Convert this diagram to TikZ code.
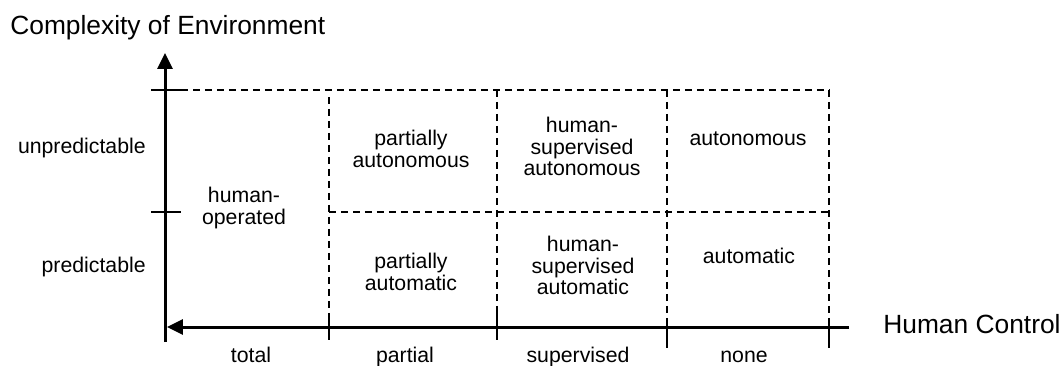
\documentclass[tikz,border=0pt]{standalone}
\usepackage{fontspec}
\setmainfont{Liberation Sans}
\usetikzlibrary{arrows.meta}

\begin{document}
\begin{tikzpicture}[x=0.02cm, y=-0.02cm,
    axis/.style={line width=0.06cm, -{Triangle[length=0.32cm, width=0.3cm]}},
    tick/.style={line width=0.05cm},
    grid/.style={line width=0.035cm, dash pattern=on 0.14cm off 0.1cm},
    cell/.style={inner sep=0pt, align=center, font=\fontsize{12.1}{12.4}\selectfont},
    big/.style={inner sep=0pt, font=\fontsize{15}{18}\selectfont}]
      \useasboundingbox (0,0) rectangle (1061,365);

      \coordinate (o) at (165,342);
      \coordinate (up) at (165,53);
      \coordinate (e) at (849,327);
      \coordinate (w) at (167,327);

      % grid
      \draw[grid] (181,90) -- (829,90);
      \draw[grid] (329,212) -- (829,212);
      \draw[grid] (329,97) -- (329,313);
      \foreach \x/\b in {497/313, 667/322, 829/322}
        \draw[grid] (\x,90) -- (\x,\b);

      % axes
      \draw (o) edge[axis] (up);
      \draw (e) edge[axis] (w);
      \draw[tick] (151,90) -- (181,90);
      \draw[tick] (151,212) -- (181,212);
      \foreach \x/\a/\b in {329/313/340, 497/313/340, 667/322/348, 829/322/348}
        \draw[tick] (\x,\a) -- (\x,\b);

      \node[big, anchor=base west] (title) at (10,34) {Complexity of Environment};
      \node[big, anchor=base west] (ctrl) at (883,333) {Human Control};
      \node[cell, anchor=base east] (unp) at (146,153) {unpredictable};
      \node[cell, anchor=base east] (pre) at (146,272) {predictable};

      \node[cell, anchor=base] (b1) at (251,362) {total};
      \node[cell, anchor=base] (b2) at (405,362) {partial};
      \node[cell, anchor=base] (b3) at (578,362) {supervised};
      \node[cell, anchor=base] (b4) at (744,362) {none};

      \node[cell] (1) at (244,208) {human-\\operated};
      \node[cell] (2) at (411,149) {partially\\autonomous};
      \node[cell] (3) at (582,146.5) {human-\\supervised\\autonomous};
      \node[cell, anchor=base] (4) at (748,145) {autonomous};
      \node[cell] (5) at (411,272) {partially\\automatic};
      \node[cell] (6) at (583,265.5) {human-\\supervised\\automatic};
      \node[cell, anchor=base] (7) at (749,263) {automatic};

    \end{tikzpicture}
\end{document}
